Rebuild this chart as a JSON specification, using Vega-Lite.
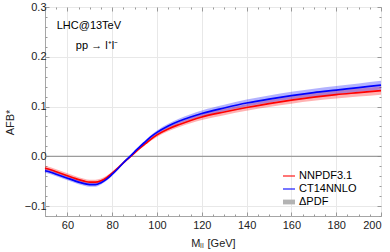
{
  "$schema": "https://vega.github.io/schema/vega-lite/v6.json",
  "width": 336,
  "height": 209,
  "autosize": {"type": "none"},
  "padding": {"left": 45, "top": 7, "right": 9, "bottom": 36},
  "datasets": {
    "nn": [
      {"M": 50, "y": -0.024, "lo": -0.029, "hi": -0.019},
      {"M": 52.5, "y": -0.027, "lo": -0.032, "hi": -0.022},
      {"M": 55, "y": -0.031, "lo": -0.036, "hi": -0.026},
      {"M": 57.5, "y": -0.035, "lo": -0.040, "hi": -0.030},
      {"M": 60, "y": -0.039, "lo": -0.044, "hi": -0.034},
      {"M": 62.5, "y": -0.043, "lo": -0.048, "hi": -0.038},
      {"M": 65, "y": -0.047, "lo": -0.052, "hi": -0.042},
      {"M": 67.5, "y": -0.050, "lo": -0.055, "hi": -0.045},
      {"M": 70, "y": -0.052, "lo": -0.057, "hi": -0.047},
      {"M": 72.5, "y": -0.052, "lo": -0.057, "hi": -0.047},
      {"M": 75, "y": -0.049, "lo": -0.0535, "hi": -0.0445},
      {"M": 77.5, "y": -0.043, "lo": -0.047, "hi": -0.039},
      {"M": 80, "y": -0.034, "lo": -0.0375, "hi": -0.0305},
      {"M": 82.5, "y": -0.024, "lo": -0.027, "hi": -0.021},
      {"M": 85, "y": -0.013, "lo": -0.0155, "hi": -0.0105},
      {"M": 87.5, "y": -0.003, "lo": -0.005, "hi": -0.001},
      {"M": 90, "y": 0.007, "lo": 0.005, "hi": 0.009},
      {"M": 92.5, "y": 0.017, "lo": 0.0145, "hi": 0.0195},
      {"M": 95, "y": 0.026, "lo": 0.023, "hi": 0.029},
      {"M": 97.5, "y": 0.035, "lo": 0.0315, "hi": 0.0385},
      {"M": 100, "y": 0.043, "lo": 0.039, "hi": 0.047},
      {"M": 105, "y": 0.055, "lo": 0.0505, "hi": 0.0595},
      {"M": 110, "y": 0.064, "lo": 0.059, "hi": 0.069},
      {"M": 115, "y": 0.072, "lo": 0.0665, "hi": 0.0775},
      {"M": 120, "y": 0.079, "lo": 0.073, "hi": 0.085},
      {"M": 130, "y": 0.089, "lo": 0.0827, "hi": 0.0953},
      {"M": 140, "y": 0.098, "lo": 0.0914, "hi": 0.1046},
      {"M": 150, "y": 0.106, "lo": 0.0991, "hi": 0.1129},
      {"M": 160, "y": 0.113, "lo": 0.1058, "hi": 0.1202},
      {"M": 170, "y": 0.119, "lo": 0.1115, "hi": 0.1265},
      {"M": 180, "y": 0.124, "lo": 0.1162, "hi": 0.1318},
      {"M": 190, "y": 0.128, "lo": 0.120, "hi": 0.136},
      {"M": 200, "y": 0.132, "lo": 0.1238, "hi": 0.1402}
    ],
    "ct": [
      {"M": 50, "y": -0.029, "lo": -0.033, "hi": -0.025},
      {"M": 52.5, "y": -0.032, "lo": -0.036, "hi": -0.028},
      {"M": 55, "y": -0.036, "lo": -0.040, "hi": -0.032},
      {"M": 57.5, "y": -0.040, "lo": -0.044, "hi": -0.036},
      {"M": 60, "y": -0.044, "lo": -0.048, "hi": -0.040},
      {"M": 62.5, "y": -0.048, "lo": -0.052, "hi": -0.044},
      {"M": 65, "y": -0.052, "lo": -0.056, "hi": -0.048},
      {"M": 67.5, "y": -0.055, "lo": -0.059, "hi": -0.051},
      {"M": 70, "y": -0.057, "lo": -0.061, "hi": -0.053},
      {"M": 72.5, "y": -0.057, "lo": -0.061, "hi": -0.053},
      {"M": 75, "y": -0.053, "lo": -0.0567, "hi": -0.0493},
      {"M": 77.5, "y": -0.046, "lo": -0.0493, "hi": -0.0427},
      {"M": 80, "y": -0.036, "lo": -0.039, "hi": -0.033},
      {"M": 82.5, "y": -0.025, "lo": -0.0275, "hi": -0.0225},
      {"M": 85, "y": -0.013, "lo": -0.015, "hi": -0.011},
      {"M": 87.5, "y": -0.002, "lo": -0.0035, "hi": -0.0005},
      {"M": 90, "y": 0.009, "lo": 0.007, "hi": 0.011},
      {"M": 92.5, "y": 0.020, "lo": 0.0175, "hi": 0.0225},
      {"M": 95, "y": 0.030, "lo": 0.027, "hi": 0.033},
      {"M": 97.5, "y": 0.040, "lo": 0.0365, "hi": 0.0435},
      {"M": 100, "y": 0.048, "lo": 0.044, "hi": 0.052},
      {"M": 105, "y": 0.061, "lo": 0.0565, "hi": 0.0655},
      {"M": 110, "y": 0.071, "lo": 0.066, "hi": 0.076},
      {"M": 115, "y": 0.079, "lo": 0.0735, "hi": 0.0845},
      {"M": 120, "y": 0.086, "lo": 0.080, "hi": 0.092},
      {"M": 130, "y": 0.097, "lo": 0.0905, "hi": 0.1035},
      {"M": 140, "y": 0.107, "lo": 0.100, "hi": 0.114},
      {"M": 150, "y": 0.115, "lo": 0.1077, "hi": 0.1223},
      {"M": 160, "y": 0.122, "lo": 0.1144, "hi": 0.1296},
      {"M": 170, "y": 0.128, "lo": 0.1201, "hi": 0.1359},
      {"M": 180, "y": 0.133, "lo": 0.1248, "hi": 0.1412},
      {"M": 190, "y": 0.138, "lo": 0.1295, "hi": 0.1465},
      {"M": 200, "y": 0.143, "lo": 0.1342, "hi": 0.1518}
    ],
    "lab": [
      {"M": 69.6, "y": 0.261, "text": "LHC@13TeV"},
      {"M": 73.2, "y": 0.222, "text": "pp → l⁺l⁻"}
    ],
    "leg": [
      {"series": "NNPDF3.1"},
      {"series": "CT14NNLO"},
      {"series": "ΔPDF"}
    ]
  },
  "layer": [
    {
      "data": {"values": [{"z": 0}]},
      "mark": {"type": "rule", "color": "#888888", "strokeWidth": 1},
      "encoding": {
        "y": {"field": "z", "type": "quantitative", "scale": {"domain": [-0.12, 0.3], "nice": false}, "axis": null}
      }
    },
    {
      "data": {"name": "nn"},
      "mark": {"type": "area", "color": "#ff0000", "opacity": 0.3, "interpolate": "monotone"},
      "encoding": {
        "x": {"field": "M", "type": "quantitative", "scale": {"domain": [50, 200], "nice": false},
          "axis": {"values": [60, 80, 100, 120, 140, 160, 180, 200], "grid": true, "tickSize": -4, "labelPadding": 7,
            "title": "Mₗₗ  [GeV]", "titleY": 27, "titleBaseline": "middle"}},
        "y": {"field": "lo", "type": "quantitative", "scale": {"domain": [-0.12, 0.3], "nice": false},
          "axis": {"values": [-0.1, 0, 0.1, 0.2, 0.3], "format": ".1f", "grid": true, "tickSize": -4, "labelPadding": 3,
            "title": "AFB*", "titleX": -35, "titleY": 115, "titleBaseline": "middle", "titleAlign": "center"}},
        "y2": {"field": "hi"}
      }
    },
    {
      "data": {"name": "ct"},
      "mark": {"type": "area", "color": "#0000ff", "opacity": 0.3, "interpolate": "monotone"},
      "encoding": {
        "x": {"field": "M", "type": "quantitative", "scale": {"domain": [50, 200], "nice": false},
          "axis": {"orient": "top", "values": [60, 80, 100, 120, 140, 160, 180, 200], "grid": false, "labels": false, "tickSize": -4, "title": null}},
        "y": {"field": "lo", "type": "quantitative", "scale": {"domain": [-0.12, 0.3], "nice": false},
          "axis": {"orient": "right", "values": [-0.1, 0, 0.1, 0.2, 0.3], "grid": false, "labels": false, "tickSize": -4, "title": null}},
        "y2": {"field": "hi"}
      }
    },
    {
      "data": {"name": "nn"},
      "mark": {"type": "line", "color": "#ff0000", "strokeWidth": 1.7, "interpolate": "monotone"},
      "encoding": {
        "x": {"field": "M", "type": "quantitative", "scale": {"domain": [50, 200], "nice": false},
          "axis": {"values": [55, 65, 70, 75, 85, 90, 95, 105, 110, 115, 125, 130, 135, 145, 150, 155, 165, 170, 175, 185, 190, 195], "grid": false, "labels": false, "tickSize": -2, "title": null}},
        "y": {"field": "y", "type": "quantitative", "scale": {"domain": [-0.12, 0.3], "nice": false},
          "axis": {"values": [-0.12, -0.08, -0.06, -0.04, -0.02, 0.02, 0.04, 0.06, 0.08, 0.12, 0.14, 0.16, 0.18, 0.22, 0.24, 0.26, 0.28], "grid": false, "labels": false, "tickSize": -2, "title": null}}
      }
    },
    {
      "data": {"name": "ct"},
      "mark": {"type": "line", "color": "#0000ff", "strokeWidth": 1.7, "interpolate": "monotone"},
      "encoding": {
        "x": {"field": "M", "type": "quantitative", "scale": {"domain": [50, 200], "nice": false},
          "axis": {"orient": "top", "values": [55, 65, 70, 75, 85, 90, 95, 105, 110, 115, 125, 130, 135, 145, 150, 155, 165, 170, 175, 185, 190, 195], "grid": false, "labels": false, "tickSize": -2, "title": null}},
        "y": {"field": "y", "type": "quantitative", "scale": {"domain": [-0.12, 0.3], "nice": false},
          "axis": {"orient": "right", "values": [-0.12, -0.08, -0.06, -0.04, -0.02, 0.02, 0.04, 0.06, 0.08, 0.12, 0.14, 0.16, 0.18, 0.22, 0.24, 0.26, 0.28], "grid": false, "labels": false, "tickSize": -2, "title": null}}
      }
    },
    {
      "data": {"name": "lab"},
      "mark": {"type": "text", "font": "Liberation Sans", "fontSize": 11, "color": "#000000", "align": "center", "baseline": "middle"},
      "encoding": {
        "x": {"field": "M", "type": "quantitative", "scale": {"domain": [50, 200], "nice": false}, "axis": null},
        "y": {"field": "y", "type": "quantitative", "scale": {"domain": [-0.12, 0.3], "nice": false}, "axis": null},
        "text": {"field": "text"}
      }
    },
    {
      "data": {"name": "leg"},
      "mark": {"type": "point", "filled": true, "size": 0, "opacity": 1},
      "encoding": {
        "color": {"field": "series", "type": "nominal",
          "scale": {"domain": ["NNPDF3.1", "CT14NNLO", "ΔPDF"], "range": ["#ff0000", "#0000ff", "#b3b3b3"]},
          "legend": {"title": null, "orient": "none", "legendX": 238, "legendY": 163, "symbolOpacity": 1, "symbolSize": 144,
            "symbolStrokeWidth": 0,
            "labelFont": "Liberation Sans", "labelFontSize": 11, "labelColor": "#000000", "rowPadding": 2, "labelOffset": 4}},
        "shape": {"field": "series", "type": "nominal",
          "scale": {"domain": ["NNPDF3.1", "CT14NNLO", "ΔPDF"], "range": ["M-1,-0.09H1V0.09H-1Z", "M-1,-0.09H1V0.09H-1Z", "M-1,-0.4H1V0.4H-1Z"]}}
      }
    }
  ],
  "resolve": {"axis": {"x": "independent", "y": "independent"}},
  "config": {
    "view": {"stroke": "#a6a6a6", "strokeWidth": 1},
    "axis": {
      "domain": false,
      "tickColor": "#999999",
      "gridColor": "#e8e8e8",
      "labelFont": "Liberation Sans",
      "labelFontSize": 11,
      "labelColor": "#222222",
      "titleFont": "Liberation Sans",
      "titleFontSize": 11,
      "titleFontWeight": "normal",
      "titleColor": "#222222"
    }
  }
}
